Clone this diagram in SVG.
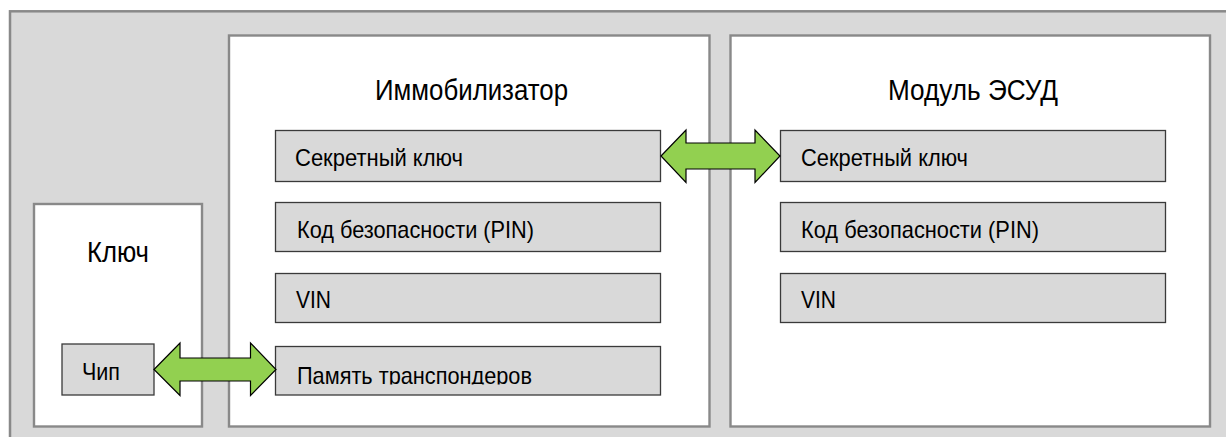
<svg xmlns="http://www.w3.org/2000/svg" width="1226" height="437" viewBox="0 0 1226 437">
<style>
.outer{fill:#d9d9d9;stroke:#898989;stroke-width:2.5}
.panel{fill:#ffffff;stroke:#898989;stroke-width:2.4}
.cell{fill:#d9d9d9;stroke:#3a3a3a;stroke-width:1.3}
.title{font-family:"Liberation Sans",Arial,sans-serif;font-size:29.5px;fill:#000}
.label{font-family:"Liberation Sans",Arial,sans-serif;font-size:24px;fill:#000}
.arrow{fill:#92d050;stroke:#000;stroke-width:1.2;stroke-linejoin:miter}
</style>
<defs>
<clipPath id="clipMem"><rect x="275" y="346" width="386" height="38.5"/></clipPath>
</defs>
<rect class="outer" x="10" y="11.3" width="1240" height="440"/>
<g id="key">
<rect class="panel" x="34" y="204" width="168" height="222.5"/>
<text class="title" x="87" y="262" textLength="62" lengthAdjust="spacingAndGlyphs">Ключ</text>
</g>
<g id="chip">
<rect class="cell" x="62" y="344" width="92" height="51"/>
<text class="label" x="82" y="380" textLength="38" lengthAdjust="spacingAndGlyphs">Чип</text>
</g>
<g id="immobilizer">
<rect class="panel" x="229" y="35.5" width="480.5" height="391"/>
<text class="title" x="375" y="100" textLength="193" lengthAdjust="spacingAndGlyphs">Иммобилизатор</text>
</g>
<g id="imm-secret">
<rect class="cell" x="275.5" y="130.5" width="385" height="51"/>
<text class="label" x="295" y="166" textLength="168" lengthAdjust="spacingAndGlyphs">Секретный ключ</text>
</g>
<g id="imm-pin">
<rect class="cell" x="275.5" y="202.5" width="385" height="49"/>
<text class="label" x="297" y="238" textLength="237" lengthAdjust="spacingAndGlyphs">Код безопасности (PIN)</text>
</g>
<g id="imm-vin">
<rect class="cell" x="275.5" y="273.5" width="385" height="49"/>
<text class="label" x="296" y="308" textLength="35" lengthAdjust="spacingAndGlyphs">VIN</text>
</g>
<g id="imm-transponder">
<rect class="cell" x="275.5" y="346.5" width="385" height="48.5"/>
<text class="label" x="297" y="384" textLength="235" lengthAdjust="spacingAndGlyphs" clip-path="url(#clipMem)">Память транспондеров</text>
</g>
<g id="ecu">
<rect class="panel" x="730.5" y="35.5" width="479.5" height="391"/>
<text class="title" x="888" y="100" textLength="170" lengthAdjust="spacingAndGlyphs">Модуль ЭСУД</text>
</g>
<g id="ecu-secret">
<rect class="cell" x="780.5" y="130.5" width="385" height="51"/>
<text class="label" x="801" y="166" textLength="167" lengthAdjust="spacingAndGlyphs">Секретный ключ</text>
</g>
<g id="ecu-pin">
<rect class="cell" x="780.5" y="202.5" width="385" height="49"/>
<text class="label" x="801" y="238" textLength="238" lengthAdjust="spacingAndGlyphs">Код безопасности (PIN)</text>
</g>
<g id="ecu-vin">
<rect class="cell" x="780.5" y="273.5" width="385" height="49"/>
<text class="label" x="801" y="308" textLength="35" lengthAdjust="spacingAndGlyphs">VIN</text>
</g>
<g id="connectors">
<polygon class="arrow" points="154,369.5 180,343 180,358 250.5,358 250.5,343 276,369.5 250.5,395.5 250.5,381 180,381 180,395.5"/>
<polygon class="arrow" points="661,156 686,130 686,143 755,143 755,130 780,156 755,182.5 755,169 686,169 686,182.5"/>
</g>
</svg>
